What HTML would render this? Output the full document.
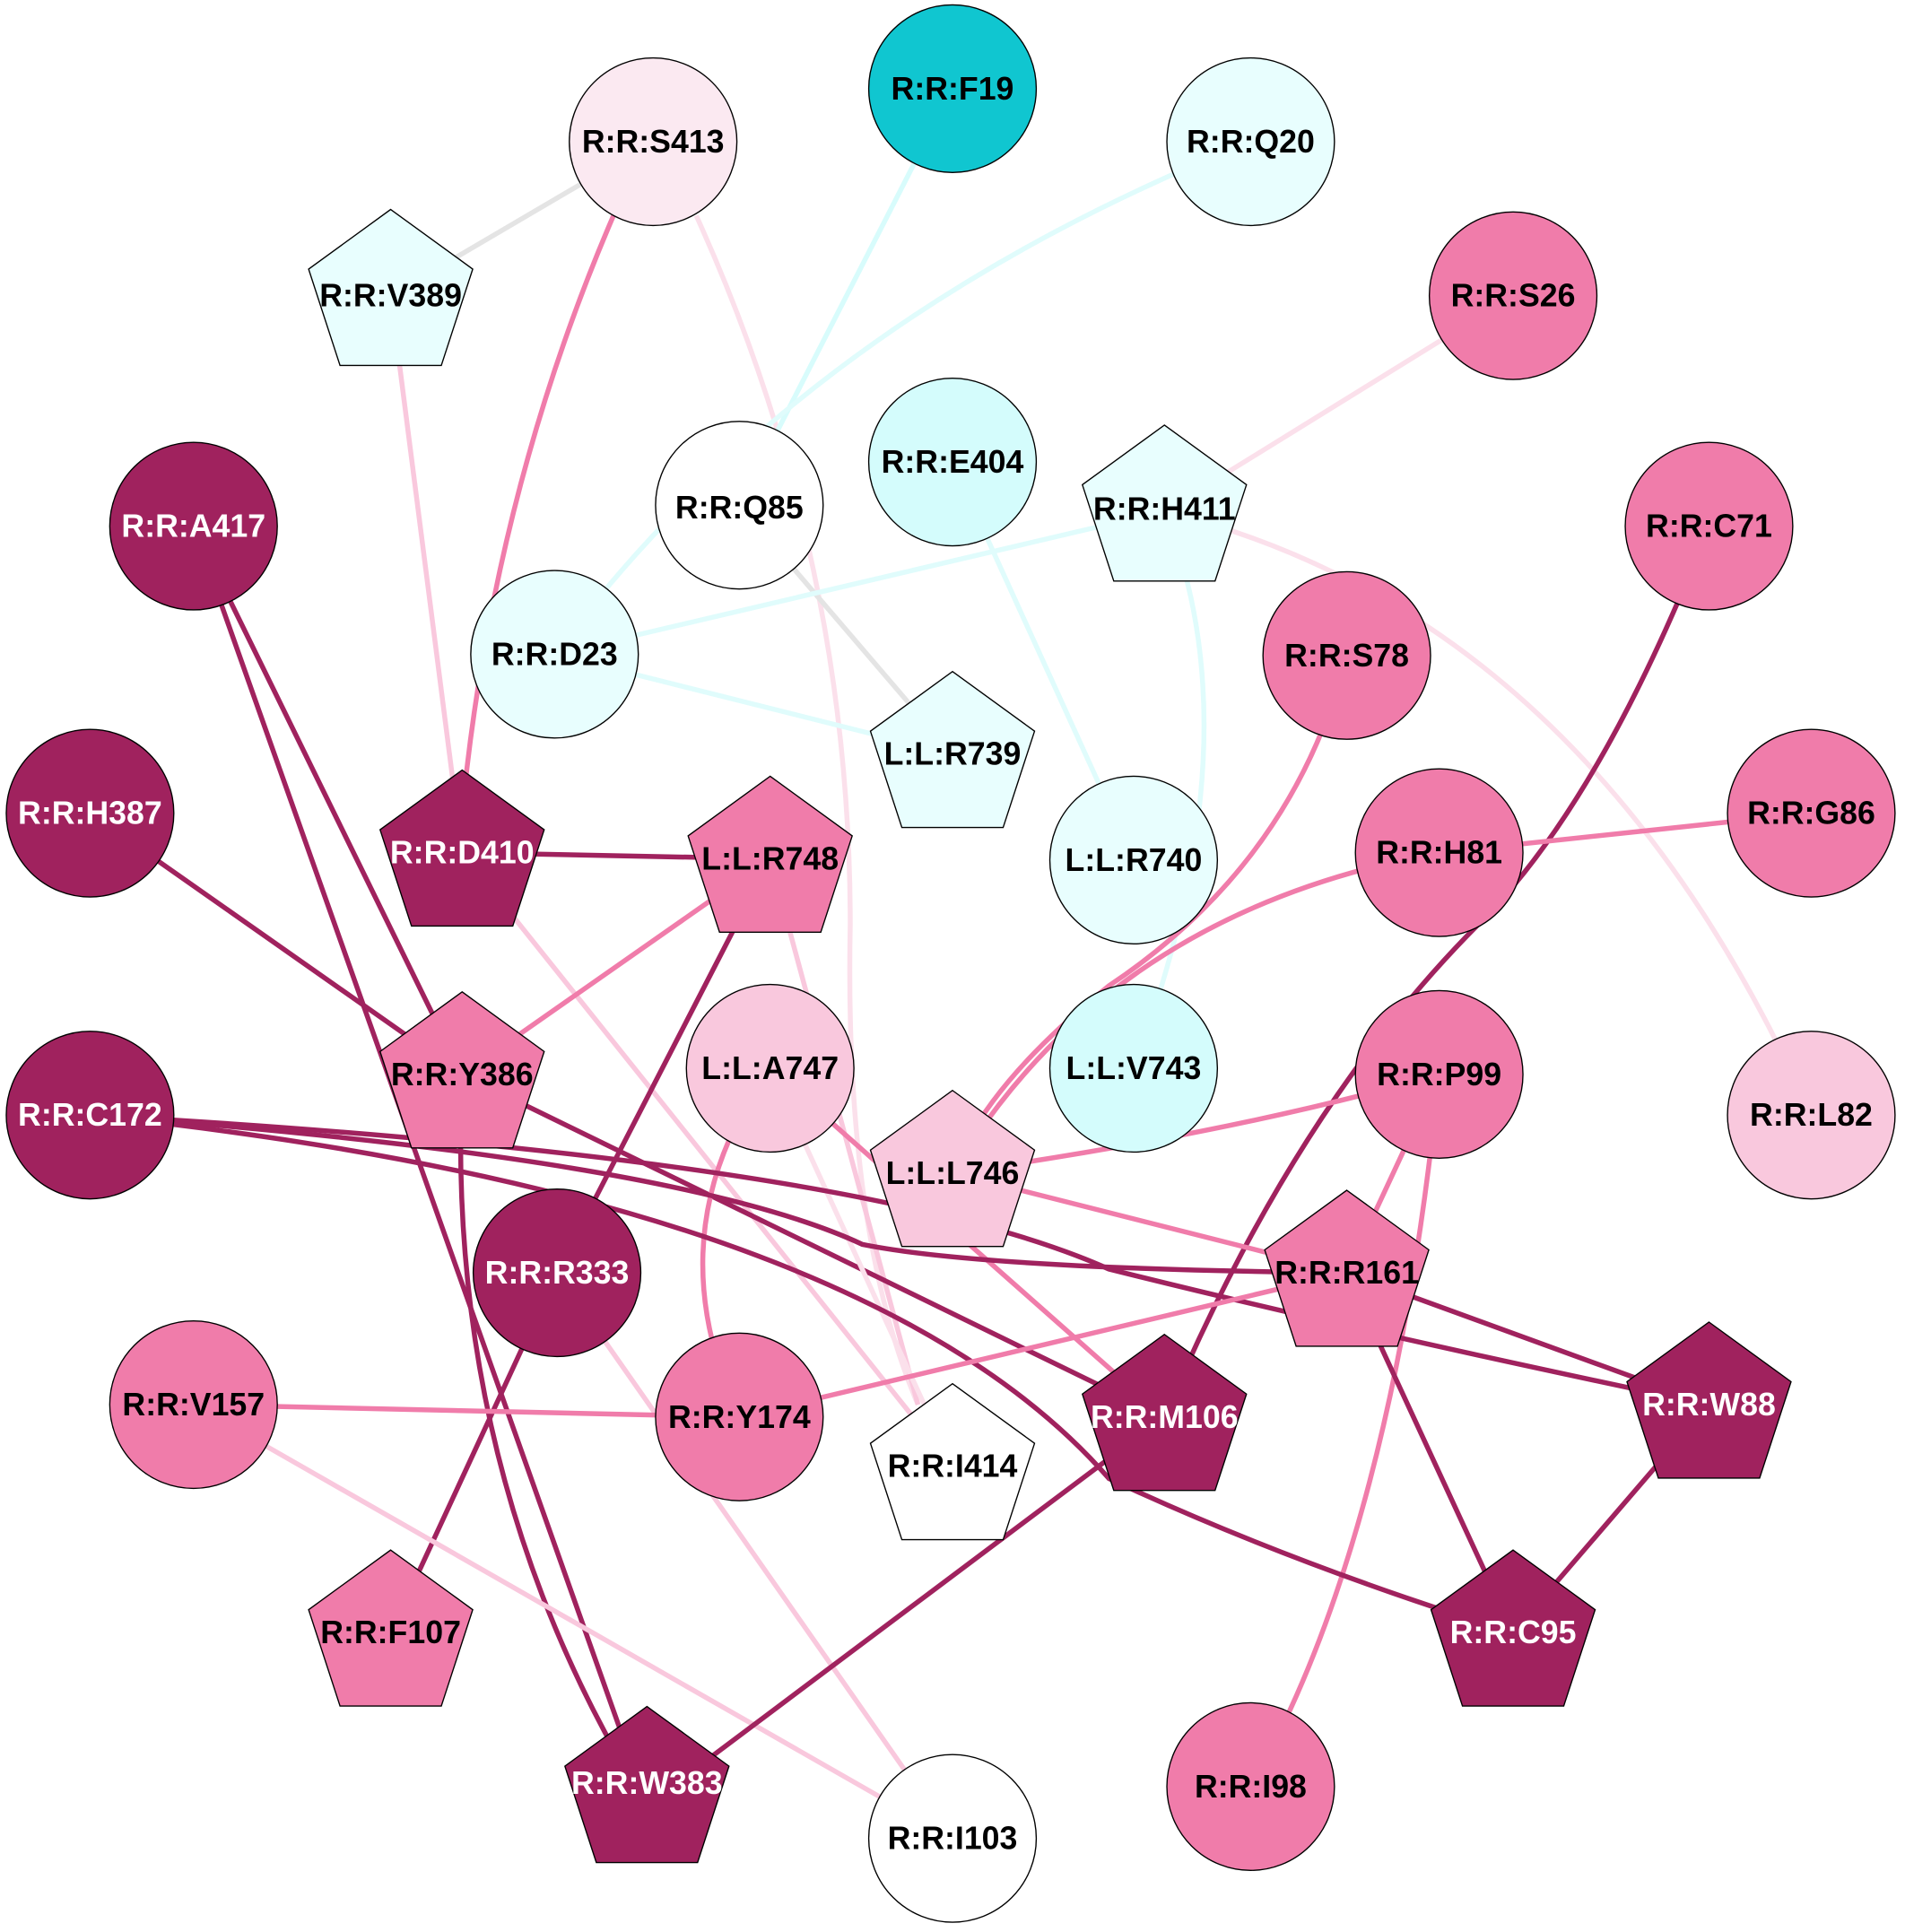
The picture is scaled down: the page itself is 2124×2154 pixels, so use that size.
<!DOCTYPE html>
<html><head><meta charset="utf-8"><style>html,body{margin:0;padding:0;background:#fff}svg{display:block}text{font-family:"Liberation Sans",sans-serif;font-weight:bold;font-size:26px;text-anchor:middle;dominant-baseline:central}</style></head><body>
<svg width="2124" height="2154" viewBox="0 0 1546 1568" xmlns="http://www.w3.org/2000/svg">
<rect width="1546" height="1568" fill="#fff"/>
<g fill="none" stroke-width="4">
<path d="M530,115 L317,240" stroke="#e4e4e4"/>
<path d="M500,170 Q400,400 375,660" stroke="#f07caa"/>
<path d="M565,175 Q690,450 690,750 Q685,1000 745,1140" stroke="#fbe0eb"/>
<path d="M773,72 L600,410" stroke="#d8fcfc"/>
<path d="M1015,115 Q650,260 450,531" stroke="#e0fcfc"/>
<path d="M1228,240 L945,415" stroke="#fbe0eb"/>
<path d="M317,240 L375,692" stroke="#f9c8dd"/>
<path d="M600,410 L773,612" stroke="#e4e4e4"/>
<path d="M773,375 L920,698" stroke="#e0fcfc"/>
<path d="M945,415 L450,531" stroke="#e0fcfc"/>
<path d="M945,415 Q1020,600 920,867" stroke="#e0fcfc"/>
<path d="M945,415 Q1290,500 1470,905" stroke="#fbe0eb"/>
<path d="M157,427 L375,872" stroke="#a0225e"/>
<path d="M157,427 L525,1465" stroke="#a0225e"/>
<path d="M1387,427 Q1300,650 1200,750 Q1050,900 945,1150" stroke="#a0225e"/>
<path d="M450,531 L773,612" stroke="#e0fcfc"/>
<path d="M1093,532 Q1050,700 900,800 Q800,880 773,952" stroke="#f07caa"/>
<path d="M73,660 L375,872" stroke="#a0225e"/>
<path d="M375,692 L625,697" stroke="#a0225e"/>
<path d="M375,692 L773,1190" stroke="#f9c8dd"/>
<path d="M625,697 L375,872" stroke="#f07caa"/>
<path d="M625,697 L452,1033" stroke="#a0225e"/>
<path d="M625,697 L745,1140" stroke="#f9c8dd"/>
<path d="M1168,692 L1470,660" stroke="#f07caa"/>
<path d="M1168,692 Q900,740 773,952" stroke="#f07caa"/>
<path d="M375,872 Q360,1200 525,1465" stroke="#a0225e"/>
<path d="M375,872 L945,1150" stroke="#a0225e"/>
<path d="M625,867 Q530,1000 600,1150" stroke="#f07caa"/>
<path d="M625,867 L945,1150" stroke="#f07caa"/>
<path d="M625,867 L773,1190" stroke="#fbe0eb"/>
<path d="M773,952 Q1000,920 1168,872" stroke="#f07caa"/>
<path d="M773,952 L1093,1033" stroke="#f07caa"/>
<path d="M1168,872 L1093,1033" stroke="#f07caa"/>
<path d="M1168,872 Q1130,1250 1015,1450" stroke="#f07caa"/>
<path d="M73,905 Q550,940 700,1010 Q800,1030 1093,1033" stroke="#a0225e"/>
<path d="M73,905 Q700,940 900,1030 Q1100,1080 1387,1140" stroke="#a0225e"/>
<path d="M73,905 Q700,970 900,1200 Q1050,1270 1228,1325" stroke="#a0225e"/>
<path d="M452,1033 L317,1325" stroke="#a0225e"/>
<path d="M452,1033 L773,1492" stroke="#f9c8dd"/>
<path d="M1093,1033 L600,1150" stroke="#f07caa"/>
<path d="M1093,1033 L1387,1140" stroke="#a0225e"/>
<path d="M1093,1033 L1228,1325" stroke="#a0225e"/>
<path d="M157,1140 L600,1150" stroke="#f07caa"/>
<path d="M157,1140 L773,1492" stroke="#f9c8dd"/>
<path d="M945,1150 L525,1465" stroke="#a0225e"/>
<path d="M1387,1140 L1228,1325" stroke="#a0225e"/>
</g>
<g stroke="#000" stroke-width="1">
<circle cx="530" cy="115" r="68" fill="#fbe9f1"/>
<circle cx="773" cy="72" r="68" fill="#10c6d0"/>
<circle cx="1015" cy="115" r="68" fill="#e8fefe"/>
<circle cx="1228" cy="240" r="68" fill="#f07caa"/>
<circle cx="600" cy="410" r="68" fill="#fff"/>
<circle cx="773" cy="375" r="68" fill="#d4fcfc"/>
<circle cx="157" cy="427" r="68" fill="#a0225e"/>
<circle cx="1387" cy="427" r="68" fill="#f07caa"/>
<circle cx="450" cy="531" r="68" fill="#e8fefe"/>
<circle cx="1093" cy="532" r="68" fill="#f07caa"/>
<circle cx="73" cy="660" r="68" fill="#a0225e"/>
<circle cx="920" cy="698" r="68" fill="#e8fefe"/>
<circle cx="1168" cy="692" r="68" fill="#f07caa"/>
<circle cx="1470" cy="660" r="68" fill="#f07caa"/>
<circle cx="625" cy="867" r="68" fill="#f9c8dd"/>
<circle cx="920" cy="867" r="68" fill="#d4fcfc"/>
<circle cx="1168" cy="872" r="68" fill="#f07caa"/>
<circle cx="1470" cy="905" r="68" fill="#f9c8dd"/>
<circle cx="73" cy="905" r="68" fill="#a0225e"/>
<circle cx="452" cy="1033" r="68" fill="#a0225e"/>
<circle cx="157" cy="1140" r="68" fill="#f07caa"/>
<circle cx="600" cy="1150" r="68" fill="#f07caa"/>
<circle cx="773" cy="1492" r="68" fill="#fff"/>
<circle cx="1015" cy="1450" r="68" fill="#f07caa"/>
</g>
<g stroke="#000" stroke-width="1">
<polygon transform="translate(317,240)" points="0,-70 66.6,-21.6 41.1,56.6 -41.1,56.6 -66.6,-21.6" fill="#e8fefe"/>
<polygon transform="translate(945,415)" points="0,-70 66.6,-21.6 41.1,56.6 -41.1,56.6 -66.6,-21.6" fill="#e8fefe"/>
<polygon transform="translate(773,615)" points="0,-70 66.6,-21.6 41.1,56.6 -41.1,56.6 -66.6,-21.6" fill="#e8fefe"/>
<polygon transform="translate(375,695)" points="0,-70 66.6,-21.6 41.1,56.6 -41.1,56.6 -66.6,-21.6" fill="#a0225e"/>
<polygon transform="translate(625,700)" points="0,-70 66.6,-21.6 41.1,56.6 -41.1,56.6 -66.6,-21.6" fill="#f07caa"/>
<polygon transform="translate(375,875)" points="0,-70 66.6,-21.6 41.1,56.6 -41.1,56.6 -66.6,-21.6" fill="#f07caa"/>
<polygon transform="translate(773,955)" points="0,-70 66.6,-21.6 41.1,56.6 -41.1,56.6 -66.6,-21.6" fill="#f9c8dd"/>
<polygon transform="translate(1093,1036)" points="0,-70 66.6,-21.6 41.1,56.6 -41.1,56.6 -66.6,-21.6" fill="#f07caa"/>
<polygon transform="translate(773,1193)" points="0,-70 66.6,-21.6 41.1,56.6 -41.1,56.6 -66.6,-21.6" fill="#fff"/>
<polygon transform="translate(945,1153)" points="0,-70 66.6,-21.6 41.1,56.6 -41.1,56.6 -66.6,-21.6" fill="#a0225e"/>
<polygon transform="translate(1387,1143)" points="0,-70 66.6,-21.6 41.1,56.6 -41.1,56.6 -66.6,-21.6" fill="#a0225e"/>
<polygon transform="translate(317,1328)" points="0,-70 66.6,-21.6 41.1,56.6 -41.1,56.6 -66.6,-21.6" fill="#f07caa"/>
<polygon transform="translate(1228,1328)" points="0,-70 66.6,-21.6 41.1,56.6 -41.1,56.6 -66.6,-21.6" fill="#a0225e"/>
<polygon transform="translate(525,1455)" points="0,-70 66.6,-21.6 41.1,56.6 -41.1,56.6 -66.6,-21.6" fill="#a0225e"/>
</g>
<g fill="#000">
<text x="530" y="115">R:R:S413</text>
<text x="773" y="72">R:R:F19</text>
<text x="1015" y="115">R:R:Q20</text>
<text x="317" y="240">R:R:V389</text>
<text x="1228" y="240">R:R:S26</text>
<text x="600" y="412">R:R:Q85</text>
<text x="773" y="375">R:R:E404</text>
<text x="945" y="413">R:R:H411</text>
<text x="1387" y="427">R:R:C71</text>
<text x="450" y="531">R:R:D23</text>
<text x="1093" y="532">R:R:S78</text>
<text x="773" y="612">L:L:R739</text>
<text x="625" y="697">L:L:R748</text>
<text x="920" y="698">L:L:R740</text>
<text x="1168" y="692">R:R:H81</text>
<text x="1470" y="660">R:R:G86</text>
<text x="625" y="867">L:L:A747</text>
<text x="920" y="867">L:L:V743</text>
<text x="1168" y="872">R:R:P99</text>
<text x="1470" y="905">R:R:L82</text>
<text x="773" y="952">L:L:L746</text>
<text x="1093" y="1033">R:R:R161</text>
<text x="157" y="1140">R:R:V157</text>
<text x="600" y="1150">R:R:Y174</text>
<text x="773" y="1190">R:R:I414</text>
<text x="375" y="872">R:R:Y386</text>
<text x="317" y="1325">R:R:F107</text>
<text x="773" y="1492">R:R:I103</text>
<text x="1015" y="1450">R:R:I98</text>
</g>
<g fill="#fff">
<text x="157" y="427">R:R:A417</text>
<text x="73" y="660">R:R:H387</text>
<text x="375" y="692">R:R:D410</text>
<text x="73" y="905">R:R:C172</text>
<text x="452" y="1033">R:R:R333</text>
<text x="945" y="1150">R:R:M106</text>
<text x="1387" y="1140">R:R:W88</text>
<text x="1228" y="1325">R:R:C95</text>
<text x="525" y="1447">R:R:W383</text>
</g>
</svg>
</body></html>
